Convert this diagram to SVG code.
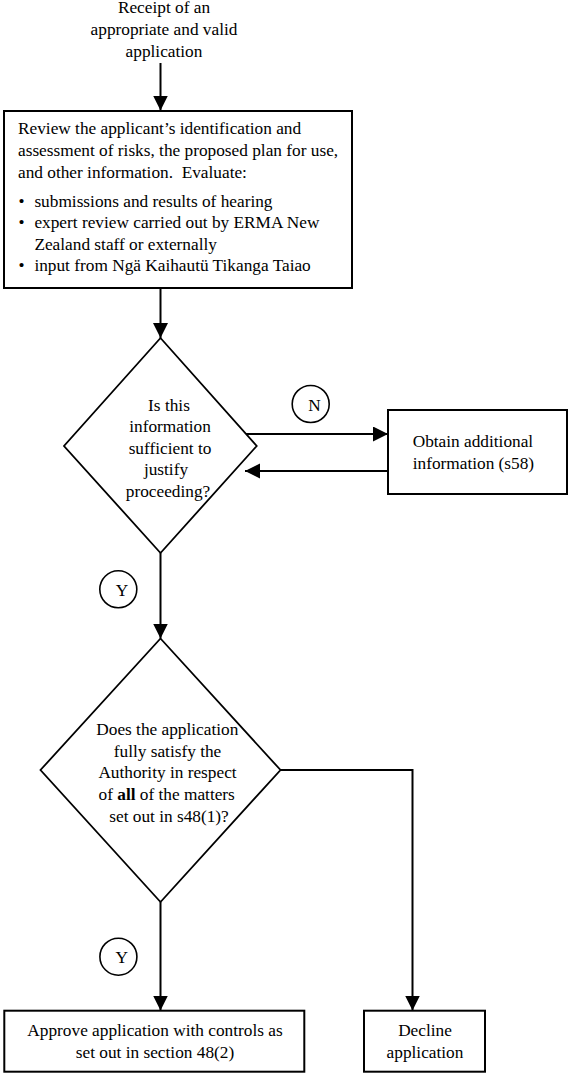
<svg xmlns="http://www.w3.org/2000/svg" width="568" height="1073" viewBox="0 0 568 1073">
<style>
  text { font-family: "Liberation Serif", "Times New Roman", serif; font-size: 17.3px; fill: #000; }
  .c { text-anchor: middle; }
  .box { fill: #fff; stroke: #000; stroke-width: 2; }
  .dia { fill: #fff; stroke: #000; stroke-width: 1.8; }
  .circ { fill: none; stroke: #000; stroke-width: 1.6; }
  .conn { fill: none; stroke: #000; stroke-width: 2; }
</style>
<defs>
  <marker id="ah" markerUnits="userSpaceOnUse" markerWidth="16" markerHeight="16" refX="15" refY="7.5" orient="auto">
    <path d="M0,0 L15,7.5 L0,15 z" fill="#000"/>
  </marker>
</defs>
<rect width="568" height="1073" fill="#fff"/>

<g id="connectors">
  <line class="conn" x1="160.5" y1="63" x2="160.5" y2="110.5" marker-end="url(#ah)"/>
  <line class="conn" x1="160.5" y1="288" x2="160.5" y2="338" marker-end="url(#ah)"/>
  <line class="conn" x1="245" y1="434" x2="388" y2="434" marker-end="url(#ah)"/>
  <line class="conn" x1="388" y1="471" x2="245" y2="471" marker-end="url(#ah)"/>
  <line class="conn" x1="160.5" y1="553" x2="160.5" y2="638.5" marker-end="url(#ah)"/>
  <polyline class="conn" points="280.5,770 412.5,770 412.5,1010.5" marker-end="url(#ah)"/>
  <line class="conn" x1="160.5" y1="902" x2="160.5" y2="1010.5" marker-end="url(#ah)"/>
</g>

<g id="start">
  <text class="c" x="164" y="13.3">Receipt of an</text>
  <text class="c" x="164" y="35">appropriate and valid</text>
  <text class="c" x="164" y="56.7">application</text>
</g>

<g id="review">
  <rect class="box" x="4" y="111" width="348" height="177"/>
  <text x="18" y="134.3">Review the applicant’s identification and</text>
  <text x="18" y="156">assessment of risks, the proposed plan for use,</text>
  <text x="18" y="177.7">and other information.&#160; Evaluate:</text>
  <text x="18.5" y="206.5">•</text><text x="34.4" y="206.5">submissions and results of hearing</text>
  <text x="18.5" y="228.2">•</text><text x="34.4" y="228.2">expert review carried out by ERMA New</text>
  <text x="34.4" y="249.9">Zealand staff or externally</text>
  <text x="18.5" y="271">•</text><text x="34.4" y="271">input from Ngä Kaihautü Tikanga Taiao</text>
</g>

<g id="decision1">
  <polygon class="dia" points="160.5,338 256.7,446 160.5,553 64,446"/>
  <text class="c" x="169" y="410.5">Is this</text>
  <text class="c" x="170" y="432.1">information</text>
  <text class="c" x="170" y="453.7">sufficient to</text>
  <text class="c" x="166" y="475.3">justify</text>
  <text class="c" x="168" y="496.9">proceeding?</text>
</g>

<g id="labelN">
  <circle class="circ" cx="310.7" cy="404" r="18.5"/>
  <text class="c" x="314.5" y="411">N</text>
</g>

<g id="obtain">
  <rect class="box" x="388" y="410" width="179" height="84"/>
  <text x="412.7" y="447">Obtain additional</text>
  <text x="412.7" y="468.5">information (s58)</text>
</g>

<g id="labelY1">
  <circle class="circ" cx="118.3" cy="589.3" r="18.5"/>
  <text class="c" x="122" y="595.5">Y</text>
</g>

<g id="decision2">
  <polygon class="dia" points="160.5,638.5 280.5,770 160.5,902 40.5,770"/>
  <text class="c" x="167.3" y="735">Does the application</text>
  <text class="c" x="167.5" y="756.7">fully satisfy the</text>
  <text class="c" x="167.5" y="778.3">Authority in respect</text>
  <text class="c" x="166.7" y="800">of <tspan font-weight="bold">all</tspan> of the matters</text>
  <text class="c" x="169" y="821.7">set out in s48(1)?</text>
</g>

<g id="labelY2">
  <circle class="circ" cx="118.4" cy="956.7" r="18.5"/>
  <text class="c" x="121.8" y="962.9">Y</text>
</g>

<g id="approve">
  <rect class="box" x="4.3" y="1010.7" width="300" height="61"/>
  <text class="c" x="155" y="1036">Approve application with controls as</text>
  <text class="c" x="155" y="1057.7">set out in section 48(2)</text>
</g>

<g id="decline">
  <rect class="box" x="364" y="1010.7" width="121" height="61"/>
  <text class="c" x="425" y="1036">Decline</text>
  <text class="c" x="425" y="1057.7">application</text>
</g>
</svg>
